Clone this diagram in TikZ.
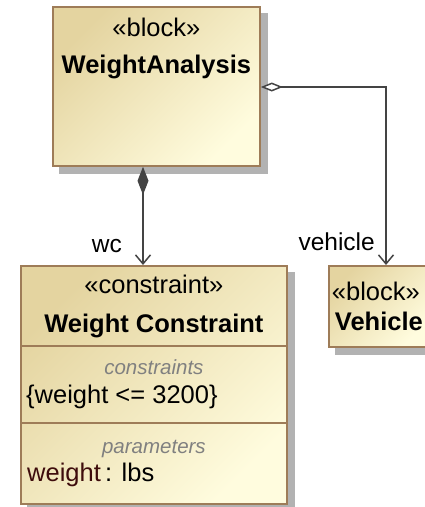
\documentclass[tikz,border=0pt]{standalone}
\usepackage{fontspec}
\setmainfont{Liberation Sans}
\usetikzlibrary{arrows.meta,positioning,backgrounds}
\definecolor{blockedge}{RGB}{158,124,88}
\definecolor{blocktop}{RGB}{228,212,160}
\definecolor{blockbot}{RGB}{255,252,222}
\definecolor{wire}{RGB}{68,68,68}
\definecolor{tagtext}{RGB}{128,128,128}
\definecolor{propname}{RGB}{62,12,12}
\definecolor{shadowgray}{RGB}{178,178,178}

\tikzset{
  block/.style={rectangle,draw=blockedge,line width=1.8pt,anchor=north west,
    top color=blocktop,bottom color=blockbot,shading angle=45,inner sep=0pt},
  title/.style={anchor=base,inner sep=0pt,font=\fontsize{25.5}{30}\selectfont},
  bold title/.style={title,font=\fontsize{25.5}{30}\selectfont\bfseries},
  compartment/.style={anchor=base,inner sep=0pt,text=tagtext,
    font=\fontsize{20.5}{24}\selectfont\itshape},
  entry/.style={anchor=base west,inner sep=0pt,font=\fontsize{25.5}{30}\selectfont},
  rolename/.style={anchor=base east,inner sep=0pt,font=\fontsize{24.5}{28}\selectfont},
  divider/.style={draw=blockedge,line width=1.8pt},
  composite/.style={draw=wire,line width=1.5pt,
    {Diamond[length=28pt,width=11pt,fill=wire]}-{Straight Barb[length=9pt,width=15pt]}},
  shared/.style={draw=wire,line width=1.5pt,
    {Diamond[length=22pt,width=9pt,fill=white]}-{Straight Barb[length=9pt,width=15pt]}}
}

\begin{document}
\begin{tikzpicture}[x=1pt,y=1pt]
  \clip (0,0) rectangle (425,-507);

  % blocks
  \node[block,minimum width=207pt,minimum height=159pt] (wa) at (52,-6) {};
  \node[block,minimum width=266pt,minimum height=238pt] (cb) at (20,-265) {};
  \node[block,minimum width=100pt,minimum height=81pt] (vb) at (328,-265) {};

  % drop shadows behind the blocks
  \begin{scope}[on background layer]
    \foreach \b in {wa,cb,vb}
      \fill[shadowgray] ([shift={(7pt,-7pt)}]\b.south west)
        rectangle ([shift={(7pt,-7pt)}]\b.north east);
  \end{scope}

  % WeightAnalysis
  \node[title] (waStereo) at ([yshift=-30pt]wa.north) {«block»};
  \node[bold title] (waName) at ([yshift=-67pt]wa.north) {WeightAnalysis};

  % constraint block with its two compartments
  \node[title] (cbStereo) at ([yshift=-28pt]cb.north) {«constraint»};
  \node[bold title] (cbName) at ([yshift=-67pt]cb.north) {Weight Constraint};
  \draw[divider] ([yshift=-81pt]cb.north west) -- ([yshift=-81pt]cb.north east);
  \node[compartment] (cbConsTag) at ([yshift=-109pt]cb.north) {constraints};
  \node[entry] (cbCons) at ([shift={(6pt,-138pt)}]cb.north west) {\{weight <= 3200\}};
  \draw[divider] ([yshift=-158pt]cb.north west) -- ([yshift=-158pt]cb.north east);
  \node[compartment] (cbParTag) at ([yshift=-188pt]cb.north) {parameters};
  \node[entry] (cbPar) at ([shift={(7pt,-216pt)}]cb.north west)
    {\textcolor{propname}{weight}\,: lbs};

  % Vehicle
  \node[title] (vbStereo) at ([shift={(-3pt,-35pt)}]vb.north) {«block»};
  \node[bold title] (vbName) at ([shift={(0pt,-65pt)}]vb.north) {Vehicle};

  % associations
  \coordinate (wcx) at (143,0);
  \coordinate (vx) at (386,0);
  \coordinate (aggy) at (0,-87);
  \draw[composite] (wa.south -| wcx) -- (cb.north -| wcx);
  \draw[shared] (wa.east |- aggy) -| (vb.north -| vx);
  \node[rolename] (wcRole) at ([shift={(-21pt,13pt)}]cb.north -| wcx) {wc};
  \node[rolename] (vRole) at ([shift={(-11pt,15pt)}]vb.north -| vx) {vehicle};
\end{tikzpicture}
\end{document}
